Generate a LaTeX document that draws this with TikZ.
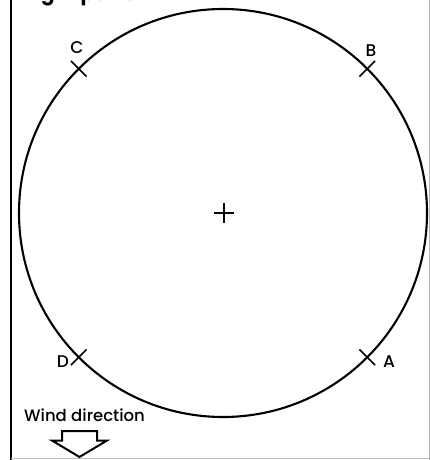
\documentclass[tikz,border=0pt]{standalone}
\usepackage{fontspec}
\setmainfont{Poppins}
\newfontfamily\medfont{Poppins Medium}
\usetikzlibrary{calc}
\begin{document}
\begin{tikzpicture}[x=1pt,y=-1pt,
  ring/.style={line width=2.1pt},
  tick/.style={line width=1.5pt},
  lbl/.style={font=\medfont\fontsize{17}{17}\selectfont, inner sep=0pt},
  frame/.style={line width=2.6pt}]
\useasboundingbox (0,0) rectangle (430,460);
\clip (0,0) rectangle (430,460);
% frame
\draw[frame] (11,0) -- (11,460);
\draw[black!25, line width=0.8pt] (11,458.5) -- (430,458.5);
\draw[black!30, line width=0.8pt] (429,0) -- (429,460);
% title (cut off at top, as in the reference)
\node[anchor=base west, inner sep=0pt, font=\fontsize{20}{20}\selectfont\bfseries] (title) at (22,1) {flight pattern};
% circle
\coordinate (O) at (223,213);
\draw[ring] (O) circle[radius=204];
% centre cross
\coordinate (cl) at (214,213); \coordinate (cr) at (234,213);
\coordinate (ct) at (224,203); \coordinate (cb) at (224,223);
\draw[tick] (cl) -- (cr); \draw[tick] (ct) -- (cb);
% ticks
\foreach \n/\a in {A/45, B/-45, C/-135, D/135} {
  \coordinate (\n i) at ($(O)+(\a:193)$);
  \coordinate (\n o) at ($(O)+(\a:215)$);
  \draw[tick] (\n i) -- (\n o);
}
\node[lbl] (lA) at (389,362) {A};
\node[lbl] (lB) at (371,51) {B};
\node[lbl] (lC) at (77,48) {C};
\node[lbl] (lD) at (63,362) {D};
% wind
\node[anchor=base west, inner sep=0pt, font=\medfont\fontsize{16.5}{16.5}\selectfont] (wind) at (24,421) {Wind direction};
\draw[line width=2pt, line join=miter] (62,431) -- (97,431) -- (97,440.5) -- (107,440.5) -- (79.5,457) -- (52,440.5) -- (62,440.5) -- cycle;
\end{tikzpicture}
\end{document}
